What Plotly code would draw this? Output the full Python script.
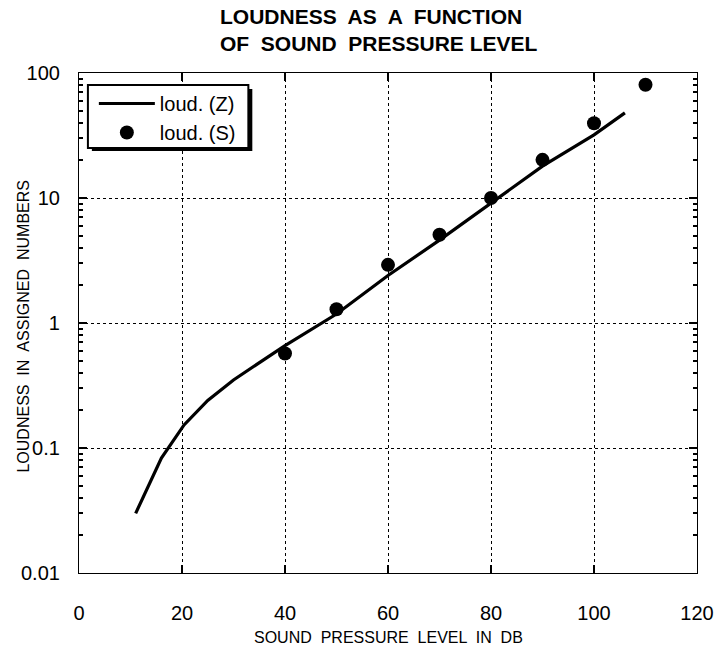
import plotly.graph_objects as go

# Data
line_x = [11, 16, 20.4, 25, 30, 40, 50, 60, 70, 80, 90, 100, 106]
line_y = [0.030, 0.083, 0.153, 0.24, 0.35, 0.66, 1.18, 2.4, 4.6, 9.1, 18.0, 32, 48]
dot_x = [40, 50, 60, 70, 80, 90, 100, 110]
dot_y = [0.57, 1.29, 2.92, 5.08, 10, 20.2, 39.6, 80.5]

x_ticks = [0, 20, 40, 60, 80, 100, 120]
y_ticks = [0.01, 0.1, 1, 10, 100]
y_ticktext = ["0.01", "0.1", "1", "10", "100"]

FONT = "Liberation Sans, Arial, sans-serif"

# plot area in pixels
L, R, T, B = 79, 703, 73, 573
W, H = R - L, B - T


def px(x):
    return (x - L) / W


def py(y):
    return (B - y) / H


minor_vals = []
for dec in [0.01, 0.1, 1, 10]:
    for k in range(2, 10):
        minor_vals.append(dec * k)

fig = go.Figure()
fig.add_trace(go.Scatter(x=line_x, y=line_y, mode="lines", name="loud. (Z)",
                         line=dict(color="black", width=3.2)))
fig.add_trace(go.Scatter(x=dot_x, y=dot_y, mode="markers", name="loud. (S)",
                         marker=dict(color="black", size=14)))

# legend box with shadow
fig.add_shape(type="rect", xref="paper", yref="paper",
              x0=px(92), x1=px(254), y0=py(151), y1=py(89),
              fillcolor="black", line=dict(width=0), layer="above")
fig.add_shape(type="rect", xref="paper", yref="paper",
              x0=px(88), x1=px(250), y0=py(148), y1=py(85),
              fillcolor="white", line=dict(width=2, color="black"), layer="above")

annotations = [
    dict(text="<b>LOUDNESS  AS  A  FUNCTION<br>OF  SOUND  PRESSURE LEVEL</b>",
         x=px(219), y=py(30), align="left",
         xanchor="left", yanchor="middle", font=dict(size=21)),
    dict(text="SOUND  PRESSURE  LEVEL  IN  DB", x=0.5, y=py(637),
         xanchor="center", yanchor="middle", font=dict(size=16)),
    dict(text="LOUDNESS  IN  ASSIGNED  NUMBERS", x=px(22), y=py(326),
         xanchor="center", yanchor="middle", textangle=-90, font=dict(size=16)),
]
for a in annotations:
    a.update(xref="paper", yref="paper", showarrow=False)

fig.update_layout(
    width=726, height=646,
    margin=dict(l=L, r=726 - R, t=T, b=646 - B),
    paper_bgcolor="white", plot_bgcolor="white",
    font=dict(family=FONT, color="black"),
    annotations=annotations,
    showlegend=True,
    legend=dict(x=px(94), y=py(84), xanchor="left", yanchor="top",
                bgcolor="rgba(0,0,0,0)", borderwidth=0,
                font=dict(size=20, family=FONT), itemwidth=56,
                tracegroupgap=0),
    xaxis=dict(range=[0, 120], tickvals=x_ticks, ticks="inside", ticklen=8,
               tickwidth=1.5, tickcolor="black",
               showline=True, linecolor="black", linewidth=1.2, mirror="allticks",
               showgrid=True, gridcolor="black", griddash="dot", gridwidth=1,
               zeroline=False, tickfont=dict(size=20), ticklabelstandoff=22),
    yaxis=dict(type="log", range=[-2, 2], tickvals=y_ticks, ticktext=y_ticktext,
               ticks="inside", ticklen=8, tickwidth=1.5, tickcolor="black",
               showline=True, linecolor="black", linewidth=1.2, mirror="allticks",
               showgrid=True, gridcolor="black", griddash="dot", gridwidth=1,
               zeroline=False, tickfont=dict(size=20), ticklabelstandoff=14,
               minor=dict(tickvals=minor_vals, ticks="inside", ticklen=4,
                          tickcolor="black", showgrid=False)),
)

fig.write_html("out.html")
